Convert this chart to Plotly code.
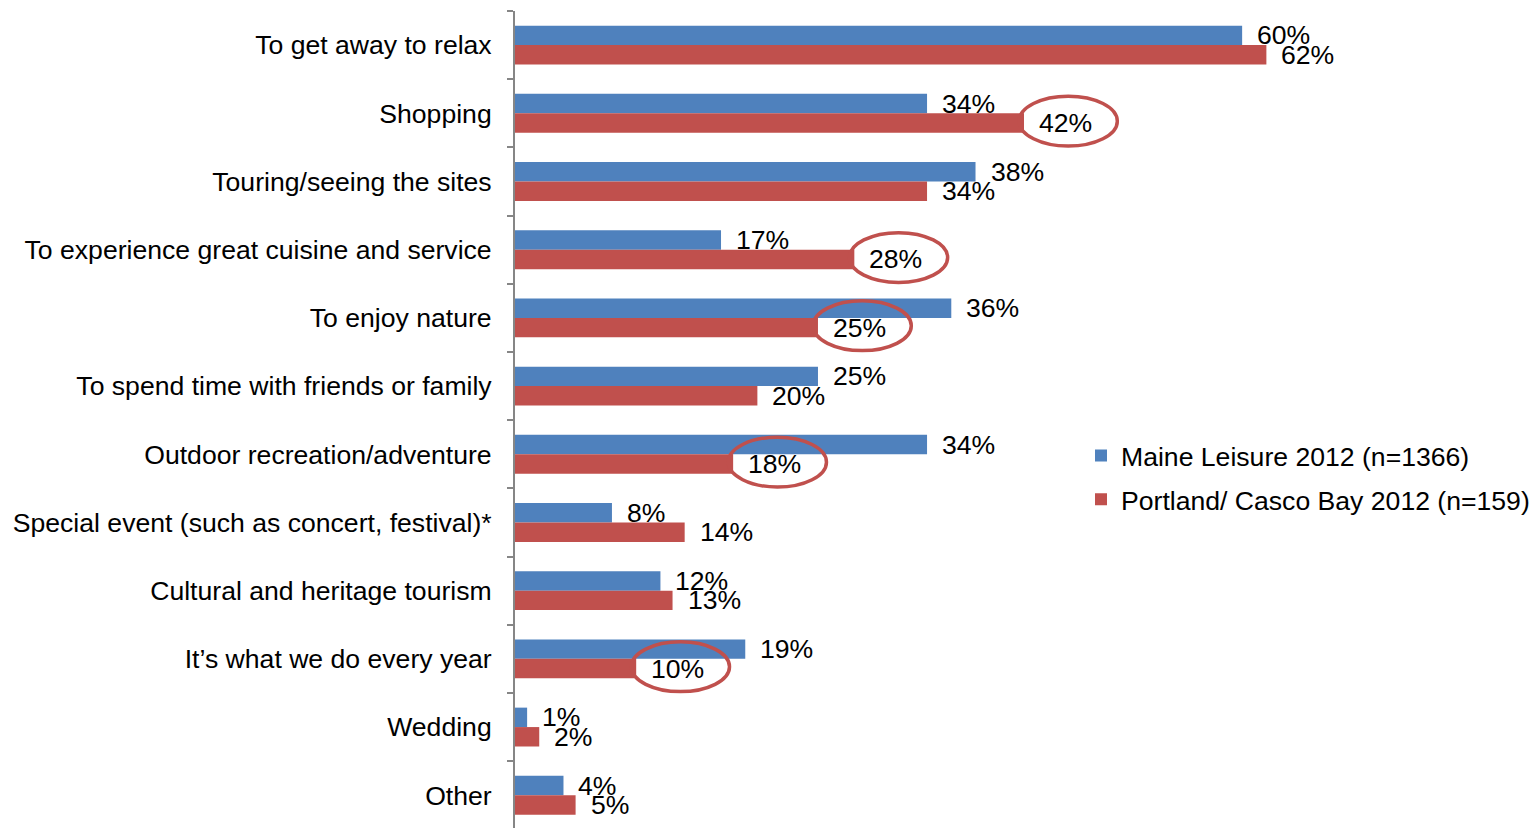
import plotly.graph_objects as go

categories = [
    "To get away to relax",
    "Shopping",
    "Touring/seeing the sites",
    "To experience great cuisine and service",
    "To enjoy nature",
    "To spend time with friends or family",
    "Outdoor recreation/adventure",
    "Special event (such as concert, festival)*",
    "Cultural and heritage tourism",
    "It\u2019s what we do every year",
    "Wedding",
    "Other",
]
maine = [60, 34, 38, 17, 36, 25, 34, 8, 12, 19, 1, 4]
portland = [62, 42, 34, 28, 25, 20, 18, 14, 13, 10, 2, 5]
circled = ["Shopping", "To experience great cuisine and service", "To enjoy nature",
           "Outdoor recreation/adventure", "It\u2019s what we do every year"]

BLUE = "#4F81BD"
RED = "#C0504D"
FONT = "Liberation Sans, Arial, sans-serif"
FS = 26.6

fig = go.Figure()
fig.add_trace(go.Bar(y=categories, x=maine, orientation="h", name="Maine Leisure 2012 (n=1366)",
                     legendgroup="a", marker=dict(color=BLUE, line=dict(width=0))))
fig.add_trace(go.Bar(y=categories, x=portland, orientation="h", name="Portland/ Casco Bay 2012 (n=159)",
                     legendgroup="b", marker=dict(color=RED, line=dict(width=0))))

gap = 0.43
half = (1 - gap) / 4.0
ann = []
for i, (m, p) in enumerate(zip(maine, portland)):
    ann.append(dict(x=m, y=i - half, xref="x", yref="y", text=f"{m}%", showarrow=False,
                    xanchor="left", yanchor="middle", xshift=13, font=dict(size=FS, color="black", family=FONT)))
    ann.append(dict(x=p, y=i + half, xref="x", yref="y", text=f"{p}%", showarrow=False,
                    xanchor="left", yanchor="middle", xshift=13, font=dict(size=FS, color="black", family=FONT)))

shapes = []
for c in circled:
    i = categories.index(c)
    v = portland[i]
    shapes.append(dict(type="circle", xref="x", yref="y", x0=v - 0.4, x1=v + 7.7,
                       y0=i - 0.25, y1=i + 0.48, line=dict(color=RED, width=3.5),
                       fillcolor="rgba(0,0,0,0)", layer="above"))

fig.update_layout(
    width=1535, height=828, autosize=False,
    margin=dict(l=515, r=0, t=11, b=0),
    paper_bgcolor="white", plot_bgcolor="white",
    barmode="group", bargap=gap, bargroupgap=0,
    font=dict(family=FONT, size=FS, color="black"),
    xaxis=dict(range=[0, 84.0], visible=False, showgrid=False, zeroline=False),
    yaxis=dict(type="category", categoryorder="array", categoryarray=categories,
               autorange=False, range=[11.48, -0.5],
               showline=True, linecolor="#868686", linewidth=2,
               ticks="outside", tickson="boundaries", ticklen=6, tickwidth=2, tickcolor="#868686",
               ticklabelstandoff=16, showgrid=False, zeroline=False,
               tickfont=dict(size=FS, color="black", family=FONT)),
    legend=dict(x=0.556, y=0.485, xanchor="left", yanchor="top", font=dict(size=FS, family=FONT),
                bgcolor="rgba(0,0,0,0)", itemwidth=30, tracegroupgap=6),
    annotations=ann, shapes=shapes,
)

fig.write_html("out.html")
